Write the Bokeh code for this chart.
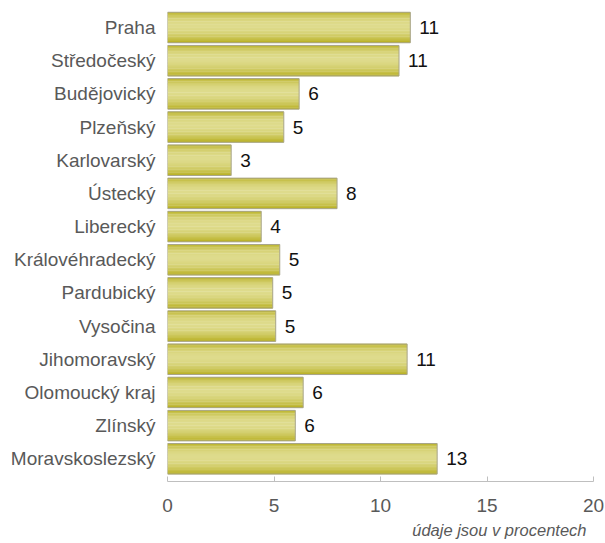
from bokeh.plotting import figure
from bokeh.models import Range1d, FixedTicker, Title, ColumnDataSource
from bokeh.core.properties import value
from bokeh.embed import file_html
from bokeh.resources import INLINE
import math

regions = ["Praha", "Středočeský", "Budějovický", "Plzeňský", "Karlovarský", "Ústecký",
           "Liberecký", "Královéhradecký", "Pardubický", "Vysočina", "Jihomoravský",
           "Olomoucký kraj", "Zlínský", "Moravskoslezský"]
values = [11.4, 10.87, 6.18, 5.46, 2.99, 7.96, 4.4, 5.27, 4.94, 5.08, 11.25, 6.37, 6.0, 12.66]
labels = ["11", "11", "6", "5", "3", "8", "4", "5", "5", "5", "11", "6", "6", "13"]
x_ticks = [0, 5, 10, 15, 20]
footnote = "údaje jsou v procentech"

FONT = "Liberation Sans"
idx = list(range(len(regions)))
y_bottom = len(regions) - 1 + 0.684
y_top = -0.543

p = figure(width=605, height=543, output_backend="svg", toolbar_location=None,
           x_range=Range1d(0, 20), y_range=Range1d(y_bottom, y_top),
           min_border_left=167, min_border_right=12, min_border_top=9, min_border_bottom=62)
p.outline_line_color = None
p.grid.visible = False
p.background_fill_color = "white"
p.border_fill_color = "white"

# gradient bars (stacked thin strips)
bar_h = 0.92
N = 20
dark = (0xB6, 0xAE, 0x1E)
light = (0xDE, 0xDB, 0x8C)
for k in range(N):
    t = (k + 0.5) / N
    f = math.sin(math.pi * t ** 0.85) ** 0.8
    c = tuple(int(round(d + (l - d) * f)) for d, l in zip(dark, light))
    col = "#%02x%02x%02x" % c
    off = -bar_h / 2 + (k + 0.5) * bar_h / N
    p.hbar(y=[i + off for i in idx], left=0, right=values, height=bar_h / N * 1.25,
           fill_color=col, line_color=None)

p.hbar(y=idx, left=0, right=values, height=bar_h, fill_color=None,
       line_color="#a8a58a", line_width=1)

src = ColumnDataSource(dict(x=values, y=idx, t=labels))
p.text(x="x", y="y", text="t", source=src, x_offset=9, text_baseline="middle",
       text_align="left", text_font=value(FONT), text_font_size="19px", text_color="#111111")

# axes
xa = p.xaxis[0]
xa.ticker = FixedTicker(ticks=x_ticks)
xa.axis_line_color = "#bfbfbf"
xa.major_tick_line_color = "#bfbfbf"
xa.major_tick_in = 5
xa.major_tick_out = 0
xa.minor_tick_line_color = None
xa.major_label_text_font = FONT
xa.major_label_text_font_size = "19px"
xa.major_label_text_color = "#595959"
xa.major_label_standoff = 17

ya = p.yaxis[0]
ya.ticker = FixedTicker(ticks=idx)
ya.major_label_overrides = {i: r for i, r in zip(idx, regions)}
ya.axis_line_color = None
ya.major_tick_line_color = None
ya.major_tick_in = 0
ya.major_tick_out = 0
ya.minor_tick_line_color = None
ya.major_label_text_font = FONT
ya.major_label_text_font_size = "19px"
ya.major_label_text_color = "#595959"
ya.major_label_standoff = 12

p.add_layout(Title(text=footnote, align="right", offset=7, standoff=9,
                   text_font=FONT, text_font_size="16.5px", text_font_style="italic",
                   text_color="#595959"), "below")

open("out.html", "w").write(file_html(p, INLINE))
